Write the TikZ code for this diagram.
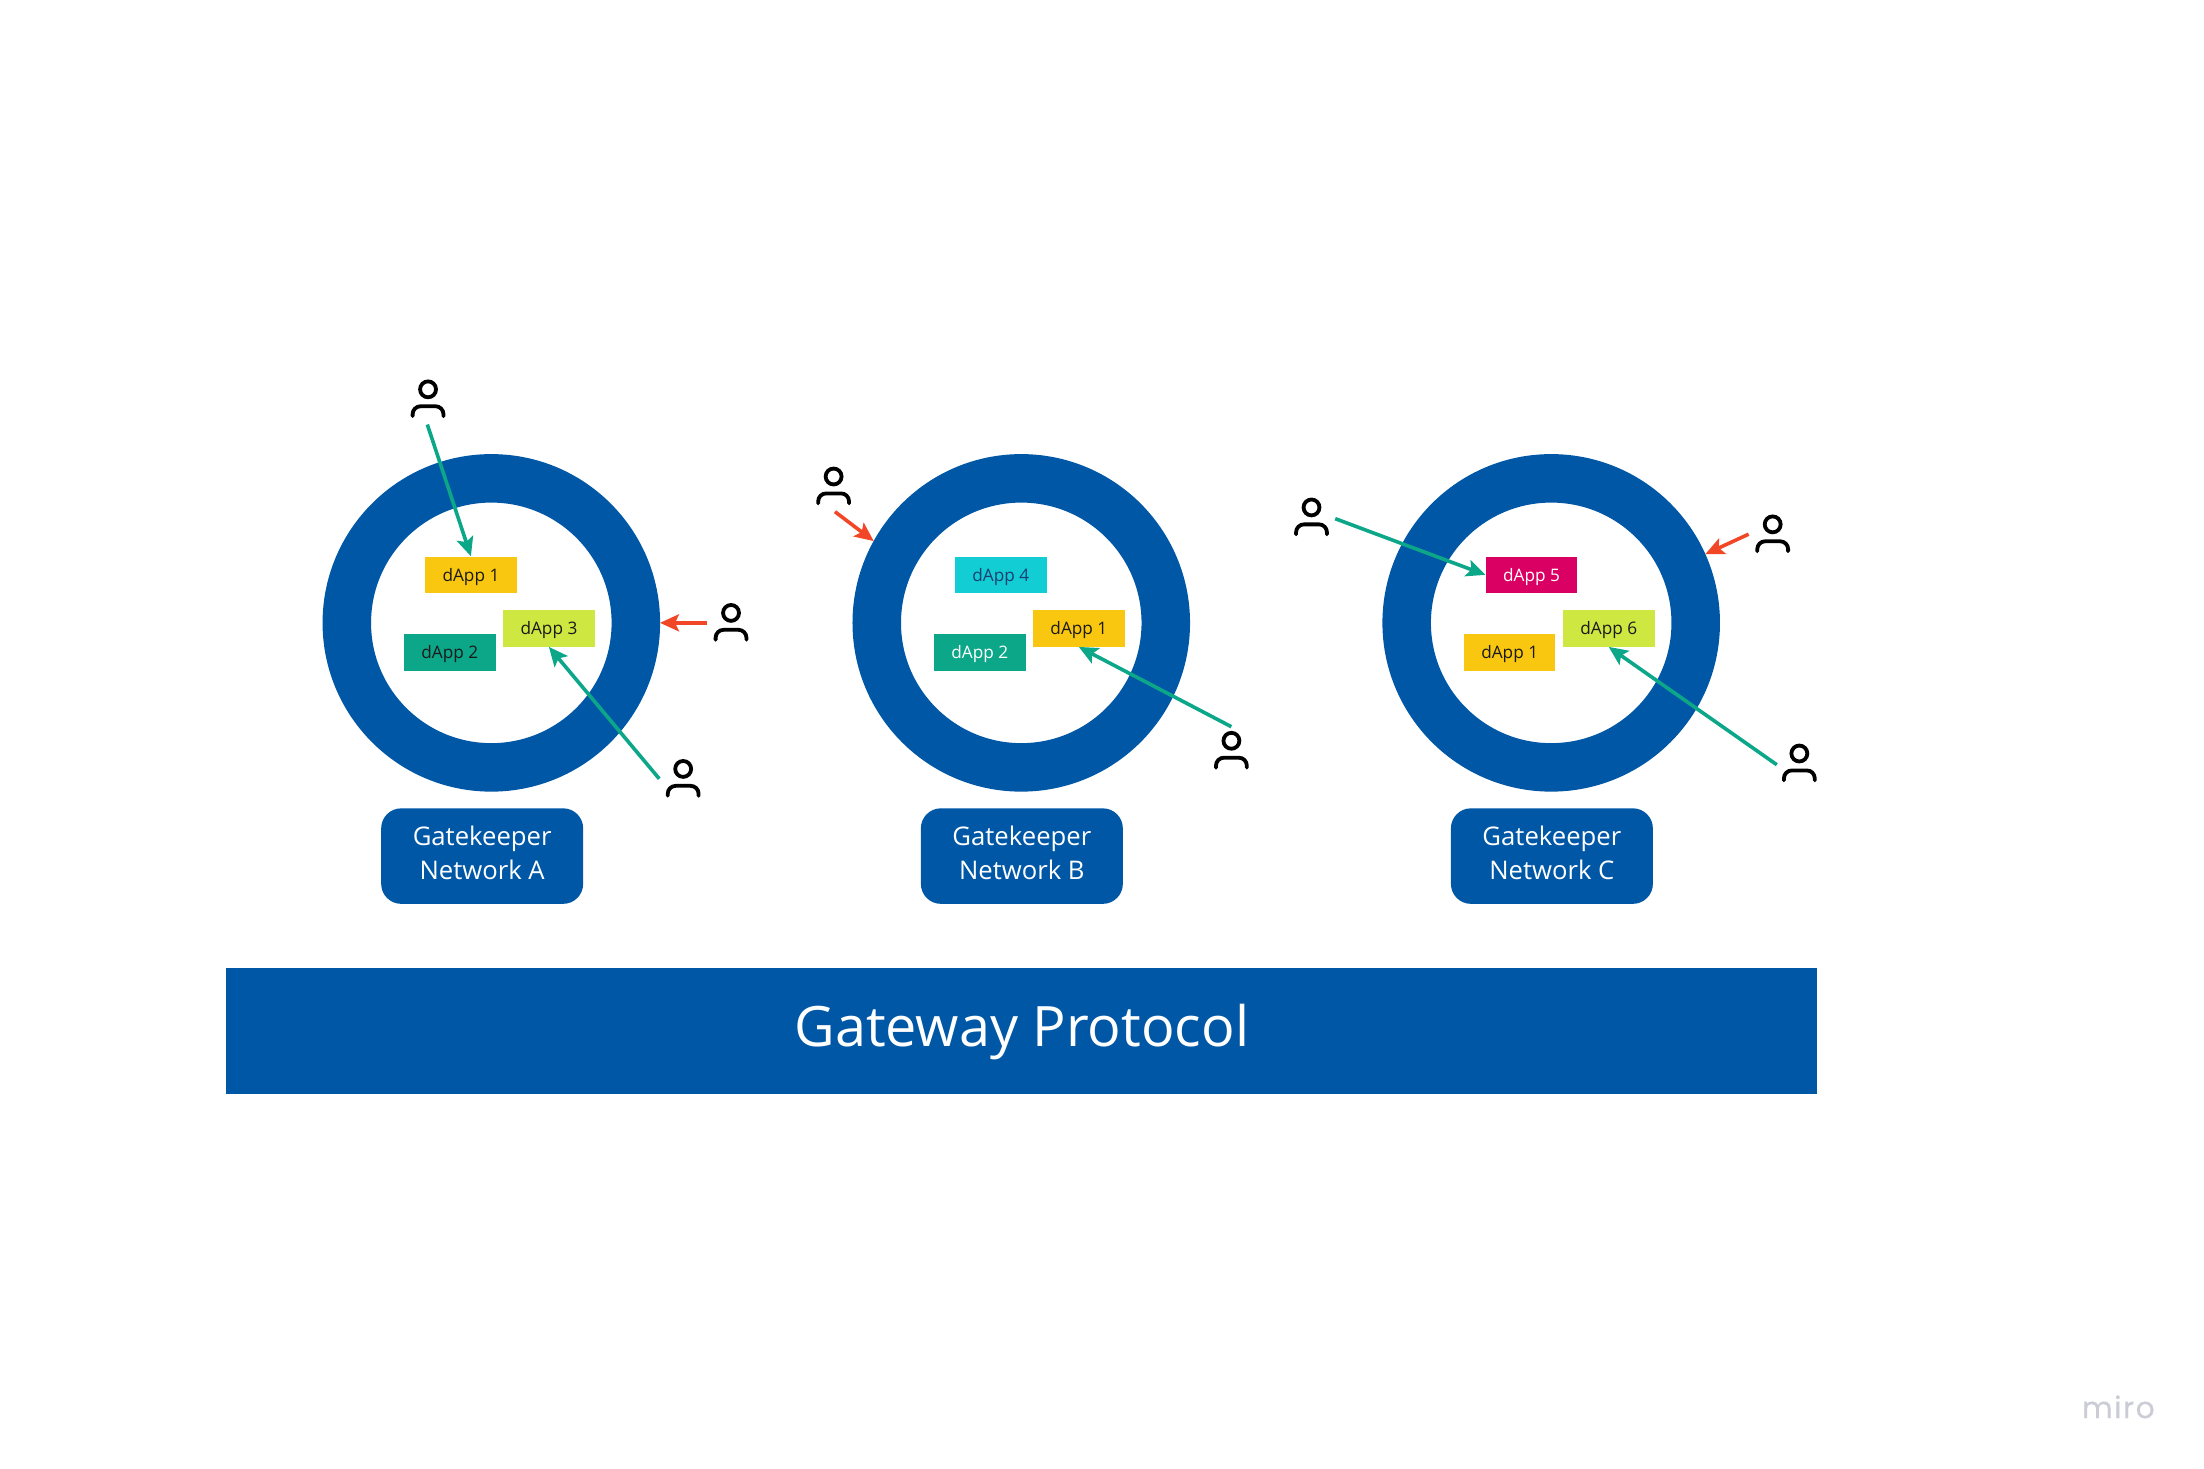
\documentclass[tikz,border=0pt]{standalone}
\usepackage{xcolor}
\usepackage{fontspec}
\setmainfont{Open Sans}
\newfontfamily\brandfont[LetterSpace=5,FakeBold=0.4]{Poppins}
\usetikzlibrary{shapes,arrows.meta,positioning}

\definecolor{netblue}{HTML}{0057A6}
\definecolor{okgreen}{HTML}{0CA789}
\definecolor{denyred}{HTML}{F24726}
\definecolor{appyellow}{HTML}{FAC710}
\definecolor{applime}{HTML}{CEE741}
\definecolor{appcyan}{HTML}{12CDD4}
\definecolor{appmagenta}{HTML}{DA0063}
\definecolor{brandgrey}{HTML}{CBCCD6}
\definecolor{inkdark}{HTML}{1A1A1A}
\definecolor{inknavy}{HTML}{1A3F75}

\begin{document}
\begin{tikzpicture}[x=1pt, y=-1pt, scale=0.995, transform shape]
    % Define styles
    \tikzstyle{ring} = [circle, draw=netblue, line width=48.5pt, fill=white, minimum size=290.5pt, inner sep=0pt]
    \tikzstyle{dapp} = [rectangle, minimum width=92pt, minimum height=37pt, inner sep=0pt, text=inkdark, text height=16.5pt, font=\fontsize{17.3}{20}\selectfont]
    \tikzstyle{netlabel} = [rectangle, rounded corners=20pt, fill=netblue, text=white, minimum width=203pt, minimum height=96pt, align=center, text depth=6.5pt, font=\fontsize{25.8}{34}\selectfont]
    \tikzstyle{ok} = [draw=okgreen, line width=3.6pt, -{Stealth[length=19pt, width=17pt, inset=4pt]}]
    \tikzstyle{deny} = [draw=denyred, line width=3.6pt, -{Stealth[length=19pt, width=17pt, inset=4pt]}]
    \tikzset{user/.pic={
        \draw [black, line width=3.8pt] (0,0) circle (8pt);
        \draw [black, line width=3.8pt, line cap=round] (-15.5,27) -- (-15.5,25) arc [start angle=180, end angle=90, radius=8pt] -- (7.5,17) arc [start angle=90, end angle=0, radius=8pt] -- (15.5,27);
    }}

    \useasboundingbox (0,0) rectangle (2215.1,1476.4);

    % Rings
    \node [ring] (ringA) at (493.8,626) {};
    \node [ring] (ringB) at (1026.4,626) {};
    \node [ring] (ringC) at (1559,626) {};

    % dApps of network A
    \node [dapp, fill=appyellow] (dappA1) at (473.3,577.8) {dApp 1};
    \node [dapp, fill=okgreen] (dappA2) at (452.1,655.5) {dApp 2};
    \node [dapp, fill=applime] (dappA3) at (551.7,631.5) {dApp 3};

    % dApps of network B
    \node [dapp, fill=appcyan, text=inknavy] (dappB4) at (1005.9,577.8) {dApp 4};
    \node [dapp, fill=okgreen, text=white] (dappB2) at (984.7,655.5) {dApp 2};
    \node [dapp, fill=appyellow] (dappB1) at (1084.3,631.5) {dApp 1};

    % dApps of network C
    \node [dapp, fill=appmagenta, text=white] (dappC5) at (1539.2,577.8) {dApp 5};
    \node [dapp, fill=appyellow] (dappC1) at (1517.3,655.5) {dApp 1};
    \node [dapp, fill=applime] (dappC6) at (1616.9,631.5) {dApp 6};

    % Labels
    \node [netlabel] (labelA) at (484.6,860.4) {Gatekeeper\\Network A};
    \node [netlabel] (labelB) at (1027,860.4) {Gatekeeper\\Network B};
    \node [netlabel] (labelC) at (1559.7,860.4) {Gatekeeper\\Network C};
    \node [rectangle, fill=netblue, text=white, minimum width=1599pt, minimum height=126pt, inner sep=0pt] (gateway) at (1027,1036) {};
    \node [text=white, font=\fontsize{56}{64}\selectfont] (gatewaytext) at (1027,1037.5) {Gateway Protocol};
    \node [text=brandgrey, font=\brandfont\fontsize{30}{34}\selectfont] (brand) at (2129,1414) {miro};

    % Users
    \pic at (430.2,391.3) {user};
    \pic at (734.7,616) {user};
    \pic at (686.6,772.8) {user};
    \pic at (837.8,478.9) {user};
    \pic at (1237.6,744.5) {user};
    \pic at (1318.1,510) {user};
    \pic at (1781.6,527) {user};
    \pic at (1808.4,757.3) {user};

    % Arrow starts
    \coordinate (fromA1) at (429.5,426.7);
    \coordinate (fromA2) at (710.6,626);
    \coordinate (fromA3) at (662.6,782.7);
    \coordinate (fromB1) at (839.2,514.3);
    \coordinate (fromB2) at (1237.6,730.4);
    \coordinate (fromC1) at (1342,521.3);
    \coordinate (fromC2) at (1757.5,536.9);
    \coordinate (fromC3) at (1785.8,768.6);

    % Arrows
    \draw [ok] (fromA1) -- (dappA1.north);
    \draw [deny] (fromA2) -- (ringA.east);
    \draw [ok] (fromA3) -- (dappA3.south);
    \draw [deny] (fromB1) -- (ringB.151);
    \draw [ok] (fromB2) -- (dappB1.south);
    \draw [ok] (fromC1) -- (dappC5.west);
    \draw [deny] (fromC2) -- (ringC.24);
    \draw [ok] (fromC3) -- (dappC6.south);
\end{tikzpicture}
\end{document}
